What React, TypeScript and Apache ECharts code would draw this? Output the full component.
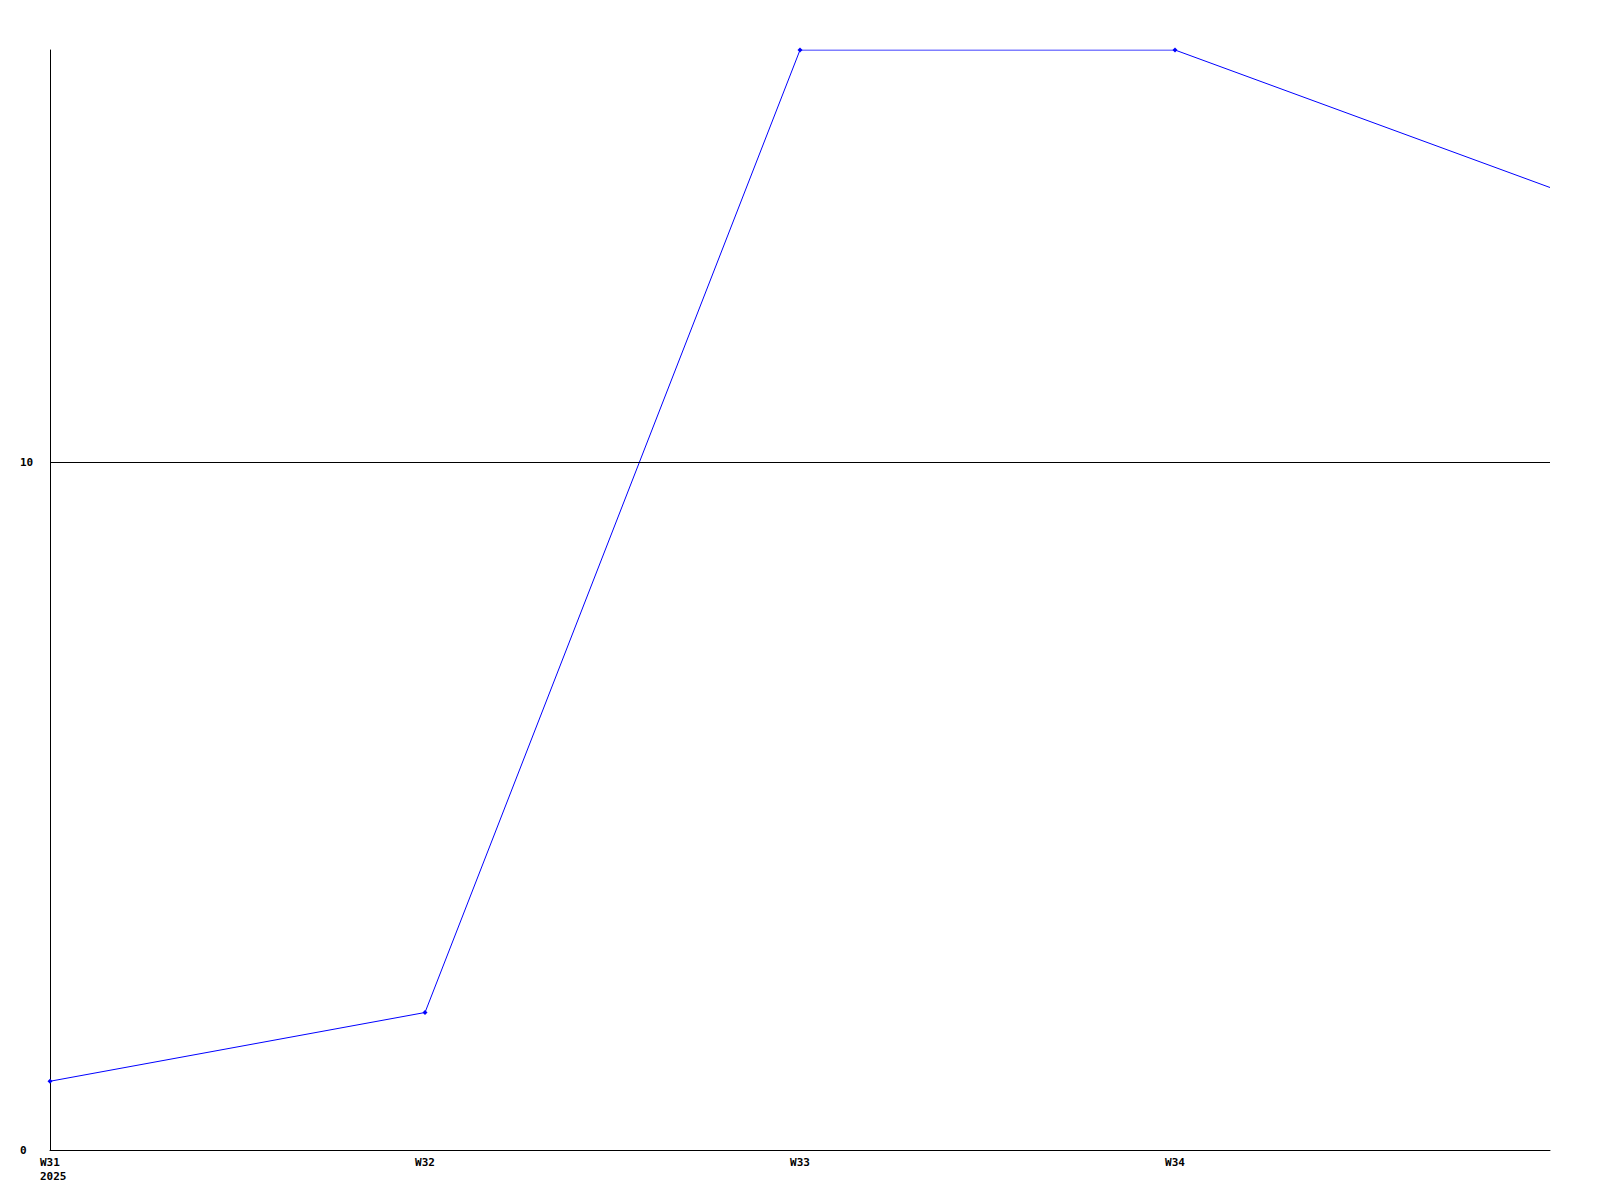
import React, { useEffect, useRef } from "react";
import * as echarts from "echarts";

const categories = ["W31", "W32", "W33", "W34", "W35"];
const values = [1, 2, 16, 16, 14];
const yearLabel = "2025";
const yMin = 0;
const yMax = 16;
const yLabelValues = [0, 10];
const referenceLine = 10;

export default function App() {
  const ref = useRef<HTMLDivElement>(null);
  useEffect(() => {
    if (!ref.current) return;
    const chart = echarts.init(ref.current, undefined, { renderer: "svg" });
    const font = "'DejaVu Sans Mono', monospace";
    chart.setOption({
      animation: false,
      backgroundColor: "#ffffff",
      grid: { left: 50, right: 50, top: 50, bottom: 50, containLabel: false },
      xAxis: {
        type: "category",
        data: categories,
        boundaryGap: false,
        axisLine: { show: true, lineStyle: { color: "#000", width: 1 } },
        axisTick: { show: false },
        splitLine: { show: false },
        axisLabel: {
          show: true,
          interval: 0,
          margin: 5,
          color: "#000",
          fontFamily: font,
          fontWeight: "bold",
          fontSize: 11,
          lineHeight: 14,
          formatter: (v: string, i: number) => {
            if (i === categories.length - 1) return "";
            if (i === 0) return `{a|${v}}\n{a|${yearLabel}}`;
            return v;
          },
          rich: {
            a: {
              width: 20,
              align: "left",
              fontFamily: font,
              fontWeight: "bold",
              fontSize: 11,
              lineHeight: 14,
              color: "#000",
            },
          },
        },
      },
      yAxis: {
        type: "value",
        min: yMin,
        max: yMax,
        interval: 10,
        axisLine: { show: true, lineStyle: { color: "#000", width: 1 } },
        axisTick: { show: false },
        splitLine: { show: false },
        axisLabel: {
          show: true,
          align: "left",
          margin: 30,
          color: "#000",
          fontFamily: font,
          fontWeight: "bold",
          fontSize: 11,
          formatter: (v: number) => (yLabelValues.includes(v) ? String(v) : ""),
        },
      },
      series: [
        {
          type: "line",
          data: values.map((v, i) =>
            i === values.length - 1 ? { value: v, symbol: "none" } : { value: v }
          ),
          symbol: "diamond",
          symbolSize: 5,
          showSymbol: true,
          lineStyle: { color: "#0000ff", width: 1 },
          itemStyle: { color: "#0000ff" },
          markLine: {
            silent: true,
            symbol: ["none", "none"],
            label: { show: false },
            lineStyle: { color: "#000", width: 1, type: "solid" },
            data: [{ yAxis: referenceLine }],
          },
          z: 3,
        },
      ],
    });
    return () => chart.dispose();
  }, []);
  return (
    <div
      ref={ref}
      style={{ position: "fixed", left: 0, top: 0, width: 1600, height: 1200 }}
    />
  );
}
